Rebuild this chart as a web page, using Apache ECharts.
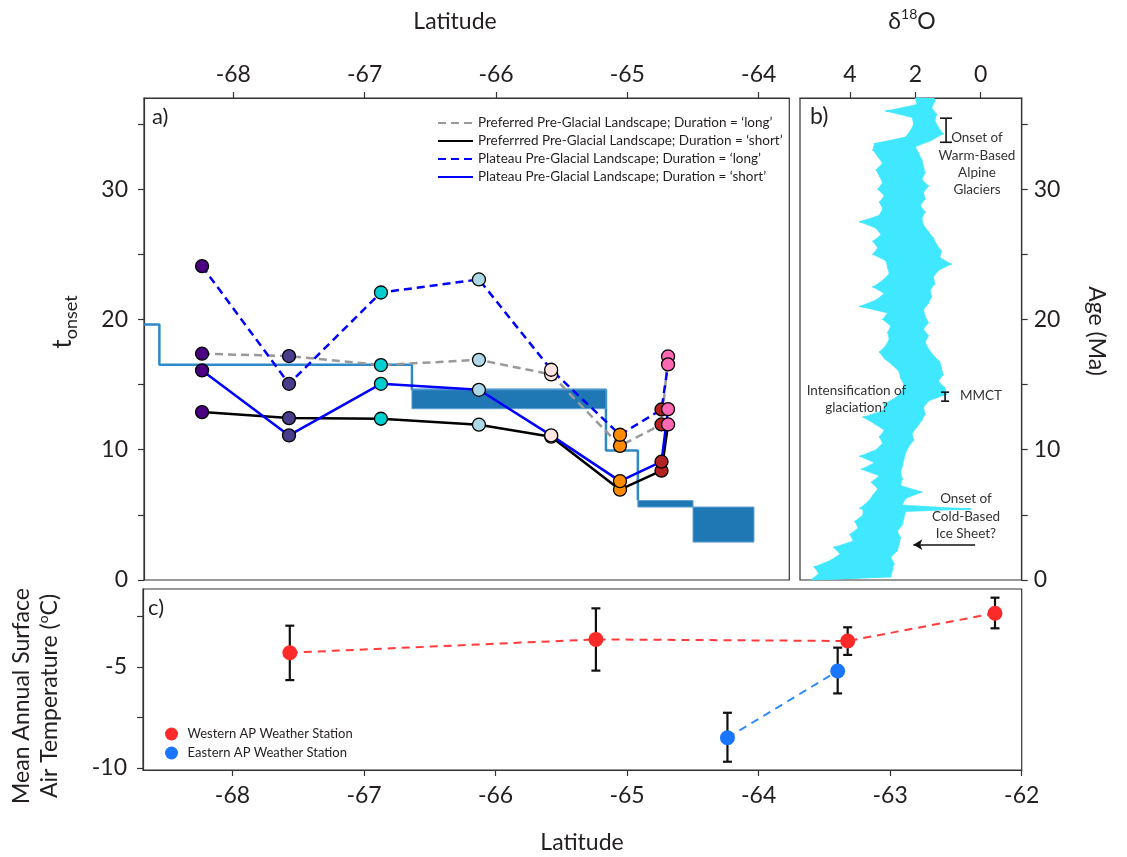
<!DOCTYPE html>
<html><head><meta charset="utf-8">
<script src="https://cdn.jsdelivr.net/npm/echarts@6/dist/echarts.min.js"></script>
<style>html,body{margin:0;padding:0;background:#fff}#c{width:1127px;height:857px}</style>
</head><body><div id="c"></div>
<script>
// ---------- tick values ----------
const latTicksA = [-68, -67, -66, -65, -64];
const latTicksC = [-68, -67, -66, -65, -64, -63, -62];
const ageTicks = [0, 5, 10, 15, 20, 25, 30, 35];
const ageLabels = [0, 10, 20, 30];
const d18OTicks = [0, 2, 4];
const tempTicks = [-10, -7.5, -5, -2.5];
const tempLabels = [-10, -5];

// ---------- panel a: onset times by site ----------
const siteLat   = [-68.238, -67.576, -66.876, -66.13, -65.58, -65.056, -64.74, -64.69];
const prefLong  = [17.37, 17.19, 16.5, 16.9, 15.78, 10.3, 11.94, 17.16];
const prefShort = [12.89, 12.43, 12.38, 11.92, 11.0, 6.93, 8.39, 11.94];
const platLong  = [24.09, 15.06, 22.07, 23.07, 16.14, 11.15, 13.09, 16.55];
const platShort = [16.09, 11.1, 15.06, 14.6, 11.1, 7.59, 9.08, 13.12];
// step outline
const stepLat = [-68.68, -68.563, -68.563, -66.64, -66.64, -65.163, -65.163, -64.92, -64.92];
const stepVal = [19.62, 19.62, 16.52, 16.52, 14.6, 14.6, 9.95, 9.95, 6.1];
// filled ranges
const rectLatW = [-66.64, -64.92, -64.50];
const rectLatE = [-65.163, -64.50, -64.036];
const rectLow  = [13.15, 5.6, 2.91];
const rectHigh = [14.6, 6.1, 5.6];

// ---------- panel b: benthic d18O [age Ma, d18O] ----------
const o18 = [
[0,5.2],[0.25,2.75],[0.5,4.95],[0.75,2.7],[1,5.1],[1.25,2.65],[1.5,4.6],[1.75,2.75],[2,4.3],[2.25,2.55],
[2.5,4.5],[2.75,2.5],[3,3.9],[3.25,2.45],[3.5,4.0],[3.75,2.55],[4,3.75],[4.25,2.4],[4.5,3.85],[4.75,2.35],
[5,3.6],[5.25,2.3],[5.4,3.6],[5.45,0.3],[5.5,3.7],[5.75,2.4],[6,3.45],[6.25,2.3],[6.5,3.3],[6.75,1.8],[7,3.15],
[7.25,2.45],[7.5,3.35],[7.75,2.4],[8,3.1],[8.25,2.45],[8.5,3.65],[8.75,2.4],[9,3.25],[9.25,2.35],[9.5,3.7],
[9.75,2.3],[10,3.2],[10.25,2.2],[10.5,3.0],[10.75,2.05],[11,3.1],[11.25,2.1],[11.5,2.95],[11.75,1.95],[12,3.25],
[12.25,1.8],[12.5,3.6],[12.75,1.7],[13,3.0],[13.25,1.75],[13.5,2.95],[13.75,1.6],[14,2.6],[14.25,1.05],[14.5,2.4],
[14.75,1.1],[15,2.35],[15.25,1.3],[15.5,2.45],[15.75,1.15],[16,2.5],[16.25,1.2],[16.5,2.7],[16.75,1.25],[17,2.95],
[17.25,1.45],[17.5,3.1],[17.75,1.6],[18,2.9],[18.25,1.7],[18.5,2.8],[18.75,1.6],[19,2.85],[19.25,1.75],[19.5,2.75],
[19.75,1.6],[20,3.0],[20.25,1.7],[20.5,2.85],[20.75,1.75],[21,3.7],[21.25,1.6],[21.5,3.2],[21.75,1.5],[22,2.95],
[22.25,1.55],[22.5,3.3],[22.75,1.4],[23,3.0],[23.25,1.45],[23.5,2.8],[23.75,1.3],[24,2.85],[24.25,0.9],[24.5,2.9],
[24.75,1.25],[25,3.3],[25.25,1.2],[25.5,3.15],[25.75,1.35],[26,3.3],[26.25,1.45],[26.5,3.05],[26.75,1.6],[27,3.2],
[27.25,1.75],[27.5,3.7],[27.75,1.8],[28,3.1],[28.25,1.7],[28.5,3.0],[28.75,1.85],[29,3.1],[29.25,1.7],[29.5,2.95],
[29.75,1.75],[30,3.15],[30.25,1.6],[30.5,3.0],[30.75,1.8],[31,3.1],[31.25,1.7],[31.5,3.2],[31.75,1.75],[32,3.0],
[32.25,1.8],[32.5,3.15],[32.75,1.9],[33,3.3],[33.25,2.0],[33.5,3.25],[33.75,1.5],[34,2.3],[34.25,1.15],[34.5,2.15],
[34.75,1.3],[35,2.05],[35.25,1.4],[35.5,2.1],[35.75,1.35],[36,2.9],[36.25,1.5],[36.5,1.95],[36.75,1.4],[37,2.0],[37.25,1.45]
];
// annotation bars (d18O position, age range) and arrow
const barD18O  = [1.06, 1.09];
const barAgeLo = [33.6, 13.73];
const barAgeHi = [35.45, 14.42];
const arrowD18O = [0.17, 2.06];
const arrowAge = 2.71;

// ---------- panel c: weather stations ----------
const westLat = [-67.564, -65.237, -63.323, -62.203];
const westT   = [-4.29, -3.63, -3.71, -2.33];
const westLo  = [-5.65, -5.18, -4.40, -3.08];
const westHi  = [-2.95, -2.09, -3.03, -1.56];
const eastLat = [-64.237, -63.399];
const eastT   = [-8.51, -5.20];
const eastLo  = [-9.70, -6.31];
const eastHi  = [-7.27, -4.04];

// ---------- styles ----------
const FONT = 'Lato';
const TXT = '#231f20';
const FRAME = '#333';
const CYAN = '#40e8ff';
const siteColors = ['#4b0082', '#483d8b', '#00ced1', '#add8e6', '#ffe4e1', '#ff8c00', '#b22222', '#ff69b4'];
const barCapHalf = [6, 4];
const names = [
  'Preferred Pre-Glacial Landscape; Duration = \u2018long\u2019',
  'Preferrred Pre-Glacial Landscape; Duration = \u2018short\u2019',
  'Plateau Pre-Glacial Landscape; Duration = \u2018long\u2019',
  'Plateau Pre-Glacial Landscape; Duration = \u2018short\u2019'
];
const westName = 'Western AP Weather Station';
const eastName = 'Eastern AP Weather Station';

function axis(opts) {
  return {
    type: 'value', gridIndex: opts.grid, position: opts.pos, min: opts.min, max: opts.max,
    inverse: !!opts.inverse,
    axisLine: { show: true, onZero: false, lineStyle: { color: FRAME, width: 1.2 } },
    axisTick: { show: true, customValues: opts.ticks, length: 6, lineStyle: { color: FRAME, width: 1.2 } },
    axisLabel: { customValues: opts.labels, fontSize: 23, fontFamily: FONT, color: TXT, margin: opts.margin,
                 formatter: v => String(v) },
    splitLine: { show: false }
  };
}

function errBar(capHalf, width) {
  return function (params, api) {
    const x = api.value(0);
    const p1 = api.coord([x, api.value(1)]);
    const p2 = api.coord([x, api.value(2)]);
    const h = Array.isArray(capHalf) ? capHalf[params.dataIndex] : capHalf;
    const st = { stroke: '#111', lineWidth: width };
    return { type: 'group', children: [
      { type: 'line', shape: { x1: p1[0], y1: p1[1], x2: p2[0], y2: p2[1] }, style: st },
      { type: 'line', shape: { x1: p1[0] - h, y1: p1[1], x2: p1[0] + h, y2: p1[1] }, style: st },
      { type: 'line', shape: { x1: p2[0] - h, y1: p2[1], x2: p2[0] + h, y2: p2[1] }, style: st }
    ]};
  };
}

function txt(x, y, text, size, extra) {
  extra = extra || {};
  return {
    type: 'text', x: x, y: y, rotation: extra.rot || 0, silent: true, z: 100,
    style: Object.assign({
      text: text, fontFamily: FONT, fontSize: size, fill: extra.color || TXT,
      align: extra.align || 'center', textAlign: extra.align || 'center',
      verticalAlign: 'middle', textVerticalAlign: 'middle'
    }, extra.style || {})
  };
}

const lineSeries = [prefLong, prefShort, platLong, platShort].map((arr, k) => {
  const col = ['#999999', '#000000', '#0000ff', '#0000ff'][k];
  const dash = [[8, 5], 'solid', [8, 5], 'solid'][k];
  return {
    name: names[k], type: 'line', xAxisIndex: 0, yAxisIndex: 0, z: 3,
    data: siteLat.map((x, i) => [x, arr[i]]), symbol: 'none',
    itemStyle: { color: col }, lineStyle: { color: col, width: 2.5, type: dash }
  };
});

const markerData = [];
siteLat.forEach((x, i) => {
  [prefLong, prefShort, platLong, platShort].forEach(arr => {
    markerData.push({ value: [x, arr[i]], itemStyle: { color: siteColors[i] } });
  });
});

const option = {
  animation: false,
  grid: [
    { left: 144, top: 98, width: 645.3, height: 482, show: true, borderColor: FRAME, borderWidth: 1.2 },
    { left: 800, top: 98, width: 221.7, height: 482, show: true, borderColor: FRAME, borderWidth: 1.2 },
    { left: 143, top: 589, width: 878.7, height: 181, show: true, borderColor: FRAME, borderWidth: 1.2 }
  ],
  xAxis: [
    axis({ grid: 0, pos: 'top', min: -68.68, max: -63.767, ticks: latTicksA, labels: latTicksA, margin: 12 }),
    axis({ grid: 1, pos: 'top', min: -1.255, max: 5.53, inverse: true, ticks: d18OTicks, labels: d18OTicks, margin: 12 }),
    axis({ grid: 2, pos: 'bottom', min: -68.68, max: -62, ticks: latTicksC, labels: latTicksC, margin: 14 })
  ],
  yAxis: [
    axis({ grid: 0, pos: 'left', min: 0, max: 37, ticks: ageTicks, labels: ageLabels, margin: 16 }),
    axis({ grid: 1, pos: 'right', min: 0, max: 37, ticks: ageTicks, labels: ageLabels, margin: 12 }),
    axis({ grid: 2, pos: 'left', min: -10.11, max: -1.13, ticks: tempTicks, labels: tempLabels, margin: 16 })
  ],
  legend: [
    { data: names, orient: 'vertical', left: 437, top: 116, padding: 0, itemWidth: 35, itemHeight: 14, itemGap: 4,
      selectedMode: false, itemStyle: { opacity: 0, borderWidth: 0 },
      textStyle: { fontFamily: FONT, fontSize: 13.5, color: TXT, lineHeight: 14 } },
    { data: [{ name: westName, icon: 'circle' }, { name: eastName, icon: 'circle' }], orient: 'vertical',
      left: 165, top: 727.5, padding: 0, itemWidth: 22, itemHeight: 13, itemGap: 6, selectedMode: false,
      textStyle: { fontFamily: FONT, fontSize: 13, color: TXT, lineHeight: 13 } }
  ],
  series: [
    { type: 'line', xAxisIndex: 0, yAxisIndex: 0, z: 1, symbol: 'none', silent: true,
      data: stepLat.map((x, i) => [x, stepVal[i]]),
      lineStyle: { color: '#2f89c8', width: 2.5 } },
    { type: 'custom', coordinateSystem: 'cartesian2d', xAxisIndex: 0, yAxisIndex: 0, z: 2, silent: true,
      data: rectLatW.map((x, i) => [x, rectLatE[i], rectLow[i], rectHigh[i]]),
      encode: { x: [0, 1], y: [2, 3] },
      renderItem: (params, api) => {
        const a = api.coord([api.value(0), api.value(3)]);
        const b = api.coord([api.value(1), api.value(2)]);
        return { type: 'rect', shape: { x: a[0], y: a[1], width: b[0] - a[0], height: b[1] - a[1] },
                 style: { fill: '#1f77b4', stroke: '#5d9fd3', lineWidth: 1 } };
      } },
    ...lineSeries,
    { type: 'scatter', xAxisIndex: 0, yAxisIndex: 0, z: 4, data: markerData, symbolSize: 13,
      itemStyle: { borderColor: '#000', borderWidth: 1.3, opacity: 1 } },

    // panel b: filled strip between consecutive samples
    { type: 'custom', coordinateSystem: 'cartesian2d', xAxisIndex: 1, yAxisIndex: 1, z: 2, silent: true, clip: true,
      data: o18.map(p => [p[1], p[0]]), encode: { x: 0, y: 1 },
      renderItem: (params, api) => {
        const i = params.dataIndex;
        if (i + 2 >= o18.length) return null;
        const pts = [o18[i], o18[i + 1], o18[i + 2]].map(p => api.coord([p[1], p[0]]));
        return { type: 'polygon', shape: { points: pts }, style: { fill: CYAN, stroke: CYAN, lineWidth: 0.6 } };
      } },
    { type: 'line', xAxisIndex: 1, yAxisIndex: 1, z: 3, symbol: 'none', silent: true,
      data: o18.map(p => [p[1], p[0]]),
      lineStyle: { color: CYAN, width: 1.2, join: 'round', cap: 'round' },
      markLine: { silent: true, symbol: ['none', 'arrow'], symbolSize: [8, 9], label: { show: false },
        lineStyle: { color: '#111', width: 1.5, type: 'solid' },
        data: [[{ coord: [arrowD18O[0], arrowAge] }, { coord: [arrowD18O[1], arrowAge] }]] } },
    { type: 'custom', coordinateSystem: 'cartesian2d', xAxisIndex: 1, yAxisIndex: 1, z: 5, silent: true,
      data: barD18O.map((x, i) => [x, barAgeLo[i], barAgeHi[i]]), encode: { x: 0, y: [1, 2] },
      renderItem: errBar(barCapHalf, 1.6) },

    // panel c
    { type: 'line', xAxisIndex: 2, yAxisIndex: 2, z: 2, symbol: 'none', silent: true,
      data: westLat.map((x, i) => [x, westT[i]]), lineStyle: { color: '#ff3b3b', width: 2, type: [8, 6] } },
    { type: 'line', xAxisIndex: 2, yAxisIndex: 2, z: 2, symbol: 'none', silent: true,
      data: eastLat.map((x, i) => [x, eastT[i]]), lineStyle: { color: '#2b87ff', width: 2, type: [8, 6] } },
    { type: 'custom', coordinateSystem: 'cartesian2d', xAxisIndex: 2, yAxisIndex: 2, z: 3, silent: true,
      data: westLat.map((x, i) => [x, westLo[i], westHi[i]]).concat(eastLat.map((x, i) => [x, eastLo[i], eastHi[i]])),
      encode: { x: 0, y: [1, 2] }, renderItem: errBar(4.5, 2.2) },
    { name: westName, type: 'scatter', xAxisIndex: 2, yAxisIndex: 2, z: 4, symbolSize: 15,
      data: westLat.map((x, i) => [x, westT[i]]), itemStyle: { color: '#fd2a2a', opacity: 1 } },
    { name: eastName, type: 'scatter', xAxisIndex: 2, yAxisIndex: 2, z: 4, symbolSize: 15,
      data: eastLat.map((x, i) => [x, eastT[i]]), itemStyle: { color: '#1a76ff', opacity: 1 } }
  ],
  graphic: [
    txt(455, 22, 'Latitude', 23),
    txt(912, 22, '{a|\u03b4}{s|18}{a|O}', 23, { style: { rich: {
      a: { fontSize: 23, fontFamily: FONT, fill: TXT, color: TXT, lineHeight: 30, verticalAlign: 'middle' },
      s: { fontSize: 14, fontFamily: FONT, fill: TXT, color: TXT, lineHeight: 14, verticalAlign: 'top' } } } }),
    txt(582, 843, 'Latitude', 23),
    txt(1096, 331, 'Age (Ma)', 23, { rot: -Math.PI / 2 }),
    txt(63, 322, '{t|t}{s|onset}', 26, { rot: Math.PI / 2, style: { rich: {
      t: { fontSize: 26, fontFamily: FONT, fill: TXT, color: TXT, lineHeight: 34, verticalAlign: 'middle' },
      s: { fontSize: 18, fontFamily: FONT, fill: TXT, color: TXT, lineHeight: 18, verticalAlign: 'bottom' } } } }),
    txt(36, 696, '{a|Mean Annual Surface}\n{a|Air Temperature (}{s|o}{a|C)}', 23, { rot: Math.PI / 2, style: { rich: {
      a: { fontSize: 23, fontFamily: FONT, fill: TXT, color: TXT, lineHeight: 28, verticalAlign: 'middle' },
      s: { fontSize: 14, fontFamily: FONT, fill: TXT, color: TXT, lineHeight: 14, verticalAlign: 'top' } } } }),
    txt(152, 117, 'a)', 22, { align: 'left' }),
    txt(810, 117, 'b)', 23, { align: 'left' }),
    txt(148, 608, 'c)', 22, { align: 'left' }),
    txt(977, 164, 'Onset of\nWarm-Based\nAlpine\nGlaciers', 13.5, { color: '#333', style: { lineHeight: 17.3 } }),
    txt(856.5, 399, 'Intensification of\nglaciation?', 13.5, { color: '#333', style: { lineHeight: 16.6 } }),
    txt(960, 396, 'MMCT', 13.5, { align: 'left', color: '#333' }),
    txt(966, 516.5, 'Onset of\nCold-Based\nIce Sheet?', 13.5, { color: '#333', style: { lineHeight: 17.4 } })
  ]
};

const chart = echarts.init(document.getElementById('c'), null, { renderer: 'canvas' });
chart.setOption(option);
</script></body></html>
